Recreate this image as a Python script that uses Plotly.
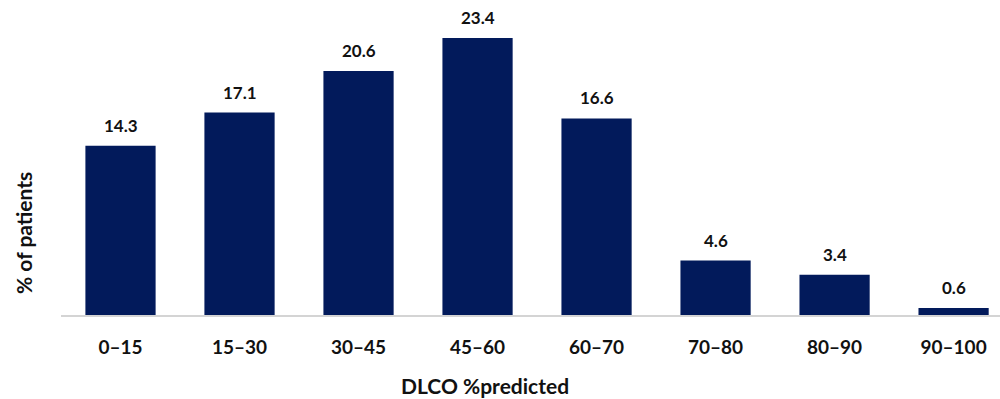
import plotly.graph_objects as go

# DLCO % predicted bands and share of patients in each
categories = ["0–15", "15–30", "30–45", "45–60", "60–70", "70–80", "80–90", "90–100"]
pct_patients = [14.3, 17.1, 20.6, 23.4, 16.6, 4.6, 3.4, 0.6]
value_labels = ["14.3", "17.1", "20.6", "23.4", "16.6", "4.6", "3.4", "0.6"]

NAVY = "#021a5b"
FONT = "Lato"
BOLD = dict(family=FONT, weight="bold", color="#111111")

fig = go.Figure(
    go.Bar(
        x=categories,
        y=pct_patients,
        marker=dict(color=NAVY, line=dict(width=0)),
        hoverinfo="skip",
    )
)

# value labels above each bar
for cat, val, lab in zip(categories, pct_patients, value_labels):
    fig.add_annotation(
        x=cat, y=val, text=lab, showarrow=False,
        yanchor="bottom", yshift=8,
        font=dict(BOLD, size=17),
    )

# axis titles placed as free text
fig.add_annotation(
    xref="paper", yref="paper", x=-0.0394, y=0.269,
    text="% of patients", textangle=-90, showarrow=False,
    xanchor="center", yanchor="middle",
    font=dict(BOLD, size=21),
)
fig.add_annotation(
    xref="paper", yref="paper", x=(485 - 61) / 939, y=-0.231,
    text="DLCO %predicted", showarrow=False,
    xanchor="center", yanchor="middle",
    font=dict(BOLD, size=21),
)

fig.update_layout(
    width=1000, height=399,
    margin=dict(l=61, r=0, t=10, b=84),
    paper_bgcolor="white", plot_bgcolor="white",
    bargap=0.41,
    showlegend=False,
    font=dict(family=FONT, color="#111111"),
    xaxis=dict(
        type="category",
        range=[-0.5, 7.39],
        showgrid=False, zeroline=False,
        showline=True, linecolor="#d4d4d4", linewidth=2,
        ticks="", tickfont=dict(BOLD, size=19),
        ticklabelstandoff=14,
    ),
    yaxis=dict(
        range=[0, 25.76],
        showgrid=False, zeroline=False, showline=False,
        showticklabels=False, ticks="",
    ),
)

fig.write_html("out.html")
